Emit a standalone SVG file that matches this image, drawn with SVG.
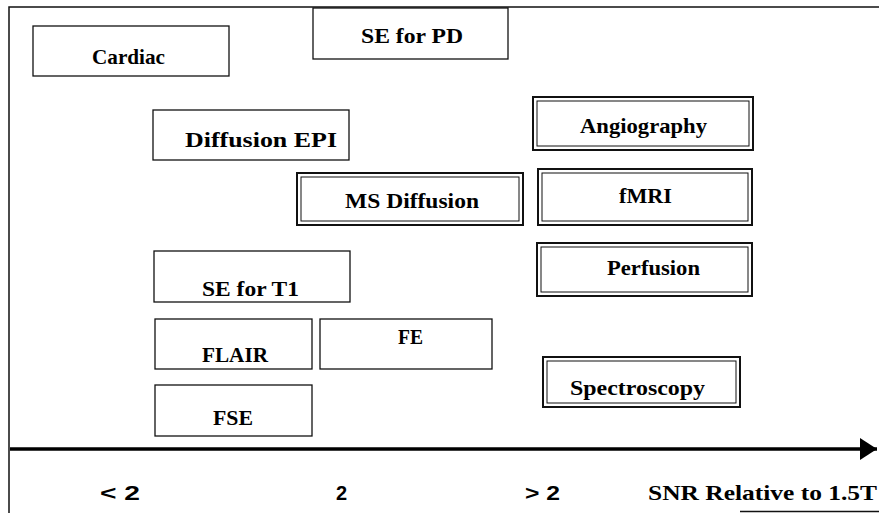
<svg xmlns="http://www.w3.org/2000/svg" width="879" height="513" viewBox="0 0 879 513">
<style>
.bx{fill:#fff;stroke:#111;stroke-width:1.3}
.ob{fill:#fff;stroke:#111;stroke-width:2}
.ib{fill:none;stroke:#111;stroke-width:1}
.t{font-family:'Liberation Serif',serif;font-size:21px;fill:#000}
.b{font-weight:bold}
.ax{font-family:'Liberation Sans',sans-serif;font-size:20px;font-weight:bold;fill:#000}
.fr{stroke:#111;stroke-width:1.5;fill:none}
</style>
<defs>
<marker id="ah" markerWidth="18" markerHeight="22" refX="17" refY="11" orient="auto" markerUnits="userSpaceOnUse">
<path d="M0,0 L17,11 L0,22 Z" fill="#000"/>
</marker>
</defs>
<rect width="879" height="513" fill="#fff"/>
<g id="frame">
<path class="fr" d="M9,513 V7 H879"/>
<path class="fr" d="M740,511.5 H879"/>
</g>
<g id="cardiac"><rect class="bx" x="33" y="26" width="196" height="50"/><text class="t b" x="92" y="64" textLength="73" lengthAdjust="spacingAndGlyphs">Cardiac</text></g>
<g id="se-pd"><rect class="bx" x="313" y="8" width="195" height="51"/><text class="t b" x="361" y="43" textLength="102" lengthAdjust="spacingAndGlyphs">SE  for PD</text></g>
<g id="diffusion-epi"><rect class="bx" x="153" y="110" width="196" height="50"/><text class="t b" x="185" y="147" textLength="152" lengthAdjust="spacingAndGlyphs">Diffusion EPI</text></g>
<g id="ms-diffusion"><rect class="ob" x="297" y="173" width="226" height="52"/><rect class="ib" x="301" y="177" width="218" height="44"/><text class="t b" x="345" y="208" textLength="134" lengthAdjust="spacingAndGlyphs">MS Diffusion</text></g>
<g id="angiography"><rect class="ob" x="533" y="97" width="220" height="53"/><rect class="ib" x="537" y="101" width="212" height="45"/><text class="t b" x="580" y="133" textLength="127" lengthAdjust="spacingAndGlyphs">Angiography</text></g>
<g id="fmri"><rect class="ob" x="538" y="169" width="214" height="56"/><rect class="ib" x="542" y="173" width="206" height="48"/><text class="t b" x="619" y="203" textLength="53" lengthAdjust="spacingAndGlyphs">fMRI</text></g>
<g id="perfusion"><rect class="ob" x="537" y="243" width="215" height="53"/><rect class="ib" x="541" y="247" width="207" height="45"/><text class="t b" x="607" y="275" textLength="93" lengthAdjust="spacingAndGlyphs">Perfusion</text></g>
<g id="se-t1"><rect class="bx" x="154" y="251" width="196" height="51"/><text class="t b" x="202" y="296" textLength="97" lengthAdjust="spacingAndGlyphs">SE  for T1</text></g>
<g id="flair"><rect class="bx" x="155" y="319" width="157" height="50"/><text class="t b" x="202" y="362" textLength="66" lengthAdjust="spacingAndGlyphs">FLAIR</text></g>
<g id="fe"><rect class="bx" x="320" y="319" width="172" height="50"/><text class="t b" x="398" y="344" textLength="25" lengthAdjust="spacingAndGlyphs">FE</text></g>
<g id="fse"><rect class="bx" x="155" y="385" width="157" height="51"/><text class="t b" x="213" y="425" textLength="40" lengthAdjust="spacingAndGlyphs">FSE</text></g>
<g id="spectroscopy"><rect class="ob" x="543" y="357" width="197" height="50"/><rect class="ib" x="547" y="361" width="189" height="42"/><text class="t b" x="570" y="395" textLength="135" lengthAdjust="spacingAndGlyphs">Spectroscopy</text></g>
<g id="connectors">
<line x1="10" y1="449" x2="877" y2="449" stroke="#000" stroke-width="3.5" marker-end="url(#ah)"/>
</g>
<g id="axis-labels">
<text class="ax" x="100" y="500" textLength="40" lengthAdjust="spacingAndGlyphs">&lt; 2</text>
<text class="ax" x="336" y="500">2</text>
<text class="ax" x="525" y="500" textLength="35" lengthAdjust="spacingAndGlyphs">&gt; 2</text>
<text class="t b" x="648" y="500" textLength="229" lengthAdjust="spacingAndGlyphs">SNR Relative to 1.5T</text>
</g>
</svg>
